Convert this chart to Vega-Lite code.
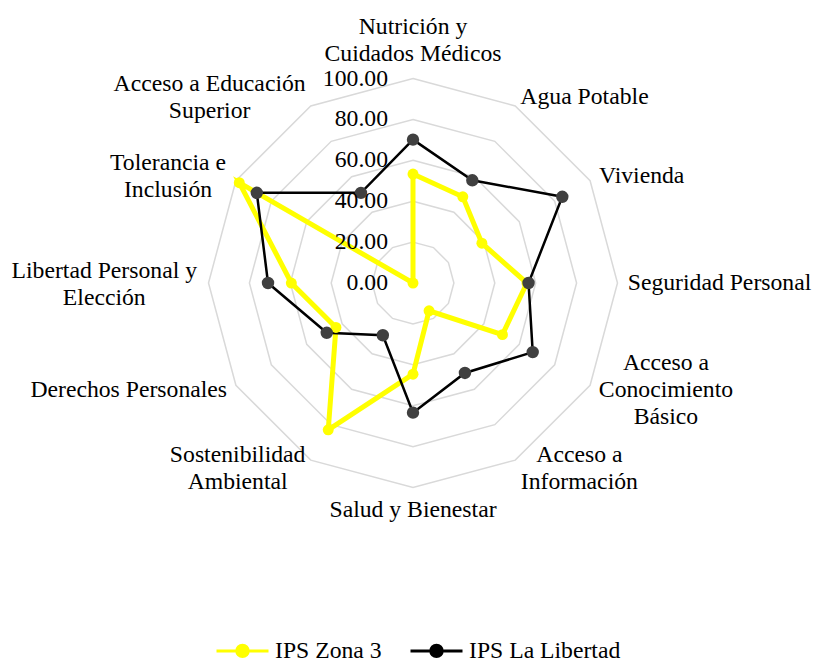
{
  "$schema": "https://vega.github.io/schema/vega-lite/v6.json",
  "width": 815,
  "height": 664,
  "autosize": {"type": "none"},
  "padding": 0,
  "background": "white",
  "config": {
    "view": {"stroke": null},
    "text": {"font": "Liberation Serif", "fontSize": 23.7, "color": "#000000", "lineHeight": 27},
    "legend": {
      "orient": "none",
      "legendX": 215,
      "legendY": 623,
      "direction": "horizontal",
      "padding": 0,
      "symbolType": "M-1,0H1M0.22,0A0.22,0.22,0,1,1,-0.22,0A0.22,0.22,0,1,1,0.22,0M0.16,0A0.16,0.16,0,1,1,-0.16,0A0.16,0.16,0,1,1,0.16,0M0.1,0A0.1,0.1,0,1,1,-0.1,0A0.1,0.1,0,1,1,0.1,0M0.04,0A0.04,0.04,0,1,1,-0.04,0A0.04,0.04,0,1,1,0.04,0",
      "symbolSize": 2704,
      "symbolStrokeWidth": 3,
      "symbolOpacity": 1,
      "labelFont": "Liberation Serif",
      "labelFontSize": 23.7,
      "labelColor": "#000000",
      "labelOffset": 5,
      "labelLimit": 400,
      "columnPadding": 22
    }
  },
  "datasets": {
    "ips": [
      {"indicador": "Nutrición y\nCuidados Médicos", "serie": "IPS Zona 3", "valor": 53.3},
      {"indicador": "Agua Potable", "serie": "IPS Zona 3", "valor": 48.7},
      {"indicador": "Vivienda", "serie": "IPS Zona 3", "valor": 38.9},
      {"indicador": "Seguridad Personal", "serie": "IPS Zona 3", "valor": 55.7},
      {"indicador": "Acceso a\nConocimiento\nBásico", "serie": "IPS Zona 3", "valor": 50.5},
      {"indicador": "Acceso a\nInformación", "serie": "IPS Zona 3", "valor": 15.7},
      {"indicador": "Salud y Bienestar", "serie": "IPS Zona 3", "valor": 44.6},
      {"indicador": "Sostenibilidad\nAmbiental", "serie": "IPS Zona 3", "valor": 82.9},
      {"indicador": "Derechos Personales", "serie": "IPS Zona 3", "valor": 43.5},
      {"indicador": "Libertad Personal y\nElección", "serie": "IPS Zona 3", "valor": 59.5},
      {"indicador": "Tolerancia e\nInclusión", "serie": "IPS Zona 3", "valor": 98.1},
      {"indicador": "Acceso a Educación\nSuperior", "serie": "IPS Zona 3", "valor": 0},
      {"indicador": "Nutrición y\nCuidados Médicos", "serie": "IPS La Libertad", "valor": 70.1},
      {"indicador": "Agua Potable", "serie": "IPS La Libertad", "valor": 58.0},
      {"indicador": "Vivienda", "serie": "IPS La Libertad", "valor": 84.3},
      {"indicador": "Seguridad Personal", "serie": "IPS La Libertad", "valor": 56.5},
      {"indicador": "Acceso a\nConocimiento\nBásico", "serie": "IPS La Libertad", "valor": 67.6},
      {"indicador": "Acceso a\nInformación", "serie": "IPS La Libertad", "valor": 50.8},
      {"indicador": "Salud y Bienestar", "serie": "IPS La Libertad", "valor": 63.4},
      {"indicador": "Sostenibilidad\nAmbiental", "serie": "IPS La Libertad", "valor": 29.5},
      {"indicador": "Derechos Personales", "serie": "IPS La Libertad", "valor": 48.7},
      {"indicador": "Libertad Personal y\nElección", "serie": "IPS La Libertad", "valor": 70.9},
      {"indicador": "Tolerancia e\nInclusión", "serie": "IPS La Libertad", "valor": 88.2},
      {"indicador": "Acceso a Educación\nSuperior", "serie": "IPS La Libertad", "valor": 50.9}
    ],
    "niveles": [
      {"nivel": 0}, {"nivel": 20}, {"nivel": 40}, {"nivel": 60}, {"nivel": 80}, {"nivel": 100}
    ]
  },
  "layer": [
    {
      "data": {"name": "ips"},
      "transform": [
        {"filter": "datum.serie === 'IPS Zona 3'"},
        {"window": [{"op": "row_number", "as": "n"}]},
        {"calculate": "[20, 40, 60, 80, 100]", "as": "anillo"},
        {"flatten": ["anillo"]},
        {"calculate": "(datum.n - 1) * PI / 6", "as": "ang"},
        {"calculate": "datum.anillo * sin(datum.ang)", "as": "px"},
        {"calculate": "datum.anillo * cos(datum.ang)", "as": "py"}
      ],
      "mark": {"type": "line", "interpolate": "linear-closed", "color": "#D9D9D9", "strokeWidth": 1.5},
      "encoding": {
        "x": {"field": "px", "type": "quantitative", "scale": {"domain": [-201.96, 196.58], "nice": false, "zero": false}, "axis": null},
        "y": {"field": "py", "type": "quantitative", "scale": {"domain": [-186.31, 138.39], "nice": false, "zero": false}, "axis": null},
        "detail": {"field": "anillo", "type": "nominal"},
        "order": {"field": "n", "type": "quantitative"}
      }
    },
    {
      "data": {"name": "ips"},
      "transform": [
        {"window": [{"op": "row_number", "as": "n"}], "groupby": ["serie"]},
        {"filter": "datum.serie === 'IPS Zona 3'"},
        {"calculate": "(datum.n - 1) * PI / 6", "as": "ang"},
        {"calculate": "datum.valor * sin(datum.ang)", "as": "px"},
        {"calculate": "datum.valor * cos(datum.ang)", "as": "py"}
      ],
      "mark": {"type": "line", "interpolate": "linear-closed", "strokeWidth": 5},
      "encoding": {
        "x": {"field": "px", "type": "quantitative"},
        "y": {"field": "py", "type": "quantitative"},
        "stroke": {"field": "serie", "type": "nominal", "scale": {"domain": ["IPS Zona 3", "IPS La Libertad"], "range": ["#FFFF00", "#000000"]}, "legend": {"title": null}},
        "order": {"field": "n", "type": "quantitative"}
      }
    },
    {
      "data": {"name": "ips"},
      "transform": [
        {"window": [{"op": "row_number", "as": "n"}], "groupby": ["serie"]},
        {"filter": "datum.serie === 'IPS La Libertad'"},
        {"calculate": "(datum.n - 1) * PI / 6", "as": "ang"},
        {"calculate": "datum.valor * sin(datum.ang)", "as": "px"},
        {"calculate": "datum.valor * cos(datum.ang)", "as": "py"}
      ],
      "mark": {"type": "line", "interpolate": "linear-closed", "strokeWidth": 2.5},
      "encoding": {
        "x": {"field": "px", "type": "quantitative"},
        "y": {"field": "py", "type": "quantitative"},
        "stroke": {"field": "serie", "type": "nominal", "legend": {"title": null}},
        "order": {"field": "n", "type": "quantitative"}
      }
    },
    {
      "data": {"name": "ips"},
      "transform": [
        {"window": [{"op": "row_number", "as": "n"}], "groupby": ["serie"]},
        {"filter": "datum.serie === 'IPS Zona 3'"},
        {"calculate": "(datum.n - 1) * PI / 6", "as": "ang"},
        {"calculate": "datum.valor * sin(datum.ang)", "as": "px"},
        {"calculate": "datum.valor * cos(datum.ang)", "as": "py"}
      ],
      "mark": {"type": "point", "filled": true, "opacity": 1, "color": "#FFFF00", "size": 120, "strokeWidth": 0},
      "encoding": {
        "x": {"field": "px", "type": "quantitative"},
        "y": {"field": "py", "type": "quantitative"}
      }
    },
    {
      "data": {"name": "ips"},
      "transform": [
        {"window": [{"op": "row_number", "as": "n"}], "groupby": ["serie"]},
        {"filter": "datum.serie === 'IPS La Libertad'"},
        {"calculate": "(datum.n - 1) * PI / 6", "as": "ang"},
        {"calculate": "datum.valor * sin(datum.ang)", "as": "px"},
        {"calculate": "datum.valor * cos(datum.ang)", "as": "py"}
      ],
      "mark": {"type": "point", "filled": true, "opacity": 1, "color": "#404040", "size": 154, "strokeWidth": 0},
      "encoding": {
        "x": {"field": "px", "type": "quantitative"},
        "y": {"field": "py", "type": "quantitative"}
      }
    },
    {
      "data": {"name": "niveles"},
      "mark": {"type": "text", "align": "right", "baseline": "middle", "dx": -25},
      "encoding": {
        "x": {"datum": 0, "type": "quantitative"},
        "y": {"field": "nivel", "type": "quantitative"},
        "text": {"field": "nivel", "type": "quantitative", "format": ".2f"}
      }
    },
    {
      "data": {"name": "ips"},
      "transform": [
        {"filter": "datum.serie === 'IPS Zona 3'"},
        {"window": [{"op": "row_number", "as": "n"}]},
        {"calculate": "(datum.n - 1) * PI / 6", "as": "ang"},
        {"calculate": "105 * sin(datum.ang)", "as": "px"},
        {"calculate": "105 * cos(datum.ang)", "as": "py"}
      ],
      "layer": [
        {
          "transform": [{"filter": "datum.n === 1"}],
          "mark": {"type": "text", "align": "center", "baseline": "middle", "lineBreak": "\n", "dy": -41}
        },
        {
          "transform": [{"filter": "datum.n === 7"}],
          "mark": {"type": "text", "align": "center", "baseline": "top", "lineBreak": "\n"}
        },
        {
          "transform": [{"filter": "datum.n >= 2 && datum.n <= 4"}],
          "mark": {"type": "text", "align": "left", "baseline": "middle", "lineBreak": "\n"}
        },
        {
          "transform": [{"filter": "datum.n === 5"}],
          "mark": {"type": "text", "align": "center", "baseline": "middle", "lineBreak": "\n", "dx": 67, "dy": -27}
        },
        {
          "transform": [{"filter": "datum.n === 6"}],
          "mark": {"type": "text", "align": "center", "baseline": "middle", "lineBreak": "\n", "dx": 59, "dy": -14}
        },
        {
          "transform": [{"filter": "datum.n === 8"}],
          "mark": {"type": "text", "align": "center", "baseline": "middle", "lineBreak": "\n", "dx": -68, "dy": -14}
        },
        {
          "transform": [{"filter": "datum.n === 9"}],
          "mark": {"type": "text", "align": "right", "baseline": "middle", "lineBreak": "\n"}
        },
        {
          "transform": [{"filter": "datum.n === 10"}],
          "mark": {"type": "text", "align": "center", "baseline": "middle", "lineBreak": "\n", "dx": -94, "dy": -12}
        },
        {
          "transform": [{"filter": "datum.n === 11"}],
          "mark": {"type": "text", "align": "center", "baseline": "middle", "lineBreak": "\n", "dx": -59, "dy": -13}
        },
        {
          "transform": [{"filter": "datum.n === 12"}],
          "mark": {"type": "text", "align": "center", "baseline": "middle", "lineBreak": "\n", "dx": -96, "dy": -13}
        }
      ],
      "encoding": {
        "x": {"field": "px", "type": "quantitative"},
        "y": {"field": "py", "type": "quantitative"},
        "text": {"field": "indicador", "type": "nominal"}
      }
    }
  ]
}
